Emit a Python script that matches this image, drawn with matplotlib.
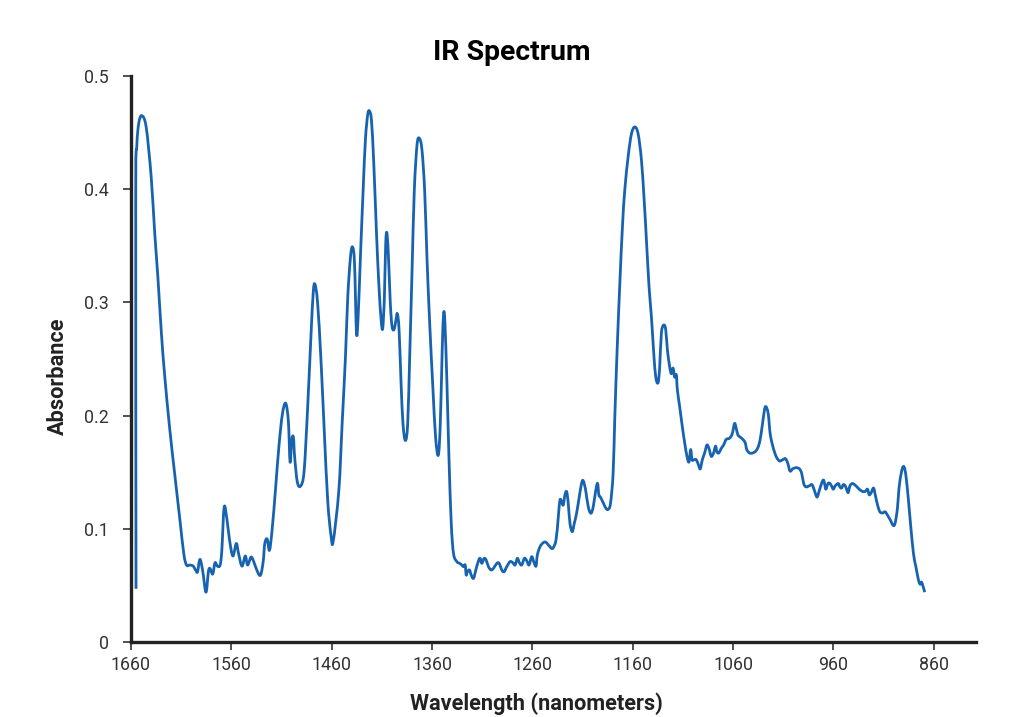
import matplotlib
matplotlib.use("Agg")
import matplotlib.pyplot as plt
from matplotlib.path import Path
from matplotlib.patches import PathPatch

plt.rcParams['font.family'] = ['Roboto', 'DejaVu Sans']

title = "IR Spectrum"
x_label = "Wavelength (nanometers)"
y_label = "Absorbance"
x_ticks = [1660, 1560, 1460, 1360, 1260, 1160, 1060, 960, 860]
y_ticks = [0, 0.1, 0.2, 0.3, 0.4, 0.5]
y_tick_labels = ["0", "0.1", "0.2", "0.3", "0.4", "0.5"]

wavelength = [
    1655.0, 1655.3, 1654.2, 1652.3, 1649.3, 1644.9, 1639.9, 1636.5, 1633.2, 1629.8,
    1626.5, 1621.5, 1616.4, 1611.4, 1607.4, 1604.7, 1601.4, 1598.0, 1595.3, 1593.7,
    1591.3, 1588.6, 1585.3, 1582.9, 1581.3, 1578.6, 1576.3, 1573.9, 1571.2, 1569.5,
    1567.2, 1564.5, 1561.8, 1558.5, 1555.1, 1552.8, 1549.4, 1546.1, 1543.8, 1540.4,
    1537.7, 1534.4, 1531.0, 1528.3, 1526.7, 1524.3, 1522.0, 1519.3, 1516.0, 1512.6,
    1509.2, 1505.9, 1503.2, 1501.5, 1499.9, 1498.2, 1496.9, 1494.2, 1490.8, 1487.5,
    1484.1, 1480.8, 1478.4, 1476.7, 1474.1, 1470.7, 1467.4, 1464.0, 1460.7,
    1458.5, 1452.9, 1449.6, 1446.3, 1444.0, 1441.3, 1439.3, 1437.3, 1435.3, 1433.7,
    1431.4, 1428.7, 1426.4, 1424.1, 1422.4, 1420.4, 1418.1, 1415.5, 1413.1, 1410.8,
    1409.2, 1407.5, 1406.2, 1404.9, 1403.2, 1401.6, 1399.9, 1397.9, 1395.9, 1394.6,
    1392.9, 1390.9, 1389.0, 1386.6, 1384.3, 1382.3, 1380.0, 1377.7, 1375.0, 1372.7,
    1370.1, 1367.4, 1365.1, 1362.4, 1359.1, 1356.5, 1353.8, 1351.8, 1349.9, 1348.5,
    1347.2, 1345.2, 1343.2, 1340.9, 1338.6, 1335.3,
    1332.6, 1330.3, 1328.7, 1327.0, 1326.0, 1324.7, 1322.7, 1321.0, 1318.7, 1316.4,
    1313.7, 1312.1, 1310.4, 1308.1, 1306.1, 1303.8, 1301.2, 1298.8, 1295.5, 1293.2,
    1290.5, 1288.2, 1285.6, 1282.3, 1279.6, 1277.3, 1275.0, 1273.0, 1270.7, 1268.0,
    1265.7, 1263.4, 1260.7, 1258.4, 1256.4, 1255.1, 1252.4, 1249.1, 1246.5, 1243.2,
    1239.9, 1236.5, 1234.2, 1232.6, 1230.9, 1229.3, 1227.6, 1225.9, 1224.3, 1222.6,
    1220.3, 1218.3, 1216.0, 1213.3, 1211.0, 1209.4, 1207.0, 1204.4, 1201.7, 1199.4,
    1197.1, 1195.1, 1193.8, 1192.1, 1189.5, 1186.8, 1184.5, 1182.2, 1179.6,
    1177.9, 1175.6, 1172.9, 1170.3, 1168.0, 1164.6, 1161.3, 1158.0, 1154.7, 1151.4,
    1148.7, 1146.4, 1143.8, 1141.4, 1139.1, 1137.1, 1134.8, 1133.2, 1131.5, 1129.2,
    1127.2, 1125.5, 1123.2, 1121.6, 1119.9, 1118.3, 1116.6, 1115.6, 1113.3, 1110.6,
    1108.3, 1106.0, 1104.0, 1102.3, 1101.0, 1099.0, 1096.7, 1094.4, 1092.7, 1090.7,
    1088.4, 1086.1, 1084.1, 1081.8, 1079.5, 1077.5, 1076.2, 1074.2, 1071.9, 1069.5,
    1066.9, 1063.6, 1060.9, 1058.6, 1057.0, 1055.3, 1053.0, 1050.3, 1048.0, 1046.4,
    1043.7, 1040.4, 1037.1, 1034.4, 1032.1, 1029.8, 1027.8,
    1025.1, 1023.1, 1020.5, 1017.2, 1013.9, 1010.6, 1007.9, 1005.6, 1003.3, 1000.6,
    997.3, 994.0, 991.7, 989.7, 987.4, 984.1, 981.4, 979.1, 976.4, 974.1,
    971.5, 969.8, 968.5, 967.5, 965.5, 963.5, 961.5, 960.2, 958.2, 955.2,
    953.6, 951.9, 950.3, 948.3, 946.6, 945.3, 943.6, 941.0, 937.7, 934.4,
    931.0, 928.4, 926.1, 924.4, 922.4, 920.1, 918.4, 916.1, 913.8, 911.2,
    908.5, 906.2, 903.5, 900.6, 898.6, 896.3, 894.6, 892.3, 890.6, 889.0,
    887.3, 885.3, 883.0, 880.3, 878.0, 875.4, 873.7, 872.4, 870.7, 869.1,
]

absorbance = [
    0.047, 0.390, 0.438, 0.458, 0.465, 0.455, 0.411, 0.363, 0.322, 0.274,
    0.236, 0.189, 0.148, 0.109, 0.078, 0.068, 0.068, 0.067, 0.063, 0.062,
    0.073, 0.063, 0.044, 0.062, 0.065, 0.060, 0.070, 0.067, 0.068, 0.081,
    0.119, 0.109, 0.090, 0.076, 0.087, 0.078, 0.067, 0.076, 0.068, 0.075,
    0.071, 0.063, 0.059, 0.071, 0.087, 0.091, 0.081, 0.100, 0.135, 0.173,
    0.201, 0.211, 0.195, 0.159, 0.178, 0.181, 0.163, 0.141, 0.138, 0.151,
    0.205, 0.268, 0.309, 0.316, 0.300, 0.249, 0.186, 0.125, 0.094,
    0.089, 0.134, 0.193, 0.252, 0.305, 0.340, 0.349, 0.335, 0.273, 0.287,
    0.340, 0.399, 0.444, 0.466, 0.469, 0.461, 0.423, 0.364, 0.317, 0.285,
    0.277, 0.305, 0.352, 0.361, 0.335, 0.299, 0.279, 0.276, 0.285, 0.290,
    0.276, 0.229, 0.193, 0.178, 0.193, 0.252, 0.326, 0.399, 0.439, 0.445,
    0.435, 0.399, 0.340, 0.282, 0.223, 0.181, 0.165, 0.193, 0.258, 0.290,
    0.282, 0.229, 0.164, 0.105, 0.078, 0.071,
    0.0695, 0.068, 0.0665, 0.068, 0.0592, 0.0621, 0.0636, 0.0592, 0.0562, 0.0636,
    0.0719, 0.0739, 0.0695, 0.0739, 0.0724, 0.0665, 0.0636, 0.0651, 0.0695, 0.0695,
    0.0636, 0.0621, 0.0665, 0.0710, 0.0701, 0.068, 0.0739, 0.0701, 0.068, 0.0739,
    0.0719, 0.068, 0.0754, 0.0701, 0.0671, 0.0769, 0.0842, 0.0878, 0.0881, 0.0848,
    0.0827, 0.0901, 0.1107, 0.1254, 0.1240, 0.1210, 0.1299, 0.1328, 0.1225, 0.1048,
    0.0975, 0.1048, 0.1137, 0.1284, 0.1402, 0.1425, 0.1343, 0.1195, 0.1137, 0.1195,
    0.1328, 0.1402, 0.1299, 0.1278, 0.1231, 0.1181, 0.1172, 0.1225, 0.149,
    0.199, 0.258, 0.317, 0.367, 0.399, 0.429, 0.449, 0.455, 0.449, 0.426,
    0.391, 0.355, 0.314, 0.287, 0.255, 0.234, 0.229, 0.243, 0.273, 0.280,
    0.276, 0.258, 0.243, 0.237, 0.242, 0.234, 0.236, 0.223, 0.208, 0.190,
    0.176, 0.164, 0.159, 0.170, 0.161, 0.161, 0.161, 0.156, 0.153, 0.161,
    0.167, 0.174, 0.171, 0.164, 0.167, 0.173, 0.168, 0.167, 0.171, 0.174,
    0.179, 0.180, 0.184, 0.193, 0.189, 0.183, 0.181, 0.179, 0.176, 0.170,
    0.167, 0.167, 0.169, 0.174, 0.184, 0.199, 0.208,
    0.202, 0.184, 0.173, 0.164, 0.160, 0.161, 0.162, 0.158, 0.151, 0.153,
    0.154, 0.153, 0.149, 0.140, 0.137, 0.138, 0.139, 0.134, 0.128, 0.134,
    0.141, 0.143, 0.138, 0.135, 0.140, 0.140, 0.137, 0.135, 0.138, 0.140,
    0.137, 0.136, 0.139, 0.138, 0.134, 0.132, 0.138, 0.140, 0.138, 0.135,
    0.133, 0.133, 0.135, 0.130, 0.132, 0.136, 0.130, 0.121, 0.115, 0.114,
    0.115, 0.112, 0.108, 0.103, 0.105, 0.118, 0.137, 0.150, 0.155, 0.153,
    0.143, 0.125, 0.102, 0.078, 0.067, 0.055, 0.051, 0.053, 0.049, 0.044,
]

W, H = 1024, 717
fig = plt.figure(figsize=(W / 100, H / 100), dpi=100)
ax = fig.add_axes([131 / W, 1 - 642 / H, (976 - 131) / W, (642 - 76) / H])

# Smooth curve through the measured points (Catmull-Rom drawn as cubic Beziers)
pts = list(zip(wavelength, absorbance))
n = len(pts)
verts = [pts[0]]
codes = [Path.MOVETO]
for i in range(n - 1):
    p0 = pts[i - 1] if i > 0 else pts[i]
    p1 = pts[i]
    p2 = pts[i + 1]
    p3 = pts[i + 2] if i + 2 < n else pts[i + 1]
    c1 = (p1[0] + (p2[0] - p0[0]) / 6.0, p1[1] + (p2[1] - p0[1]) / 6.0)
    c2 = (p2[0] - (p3[0] - p1[0]) / 6.0, p2[1] - (p3[1] - p1[1]) / 6.0)
    verts += [c1, c2, p2]
    codes += [Path.CURVE4, Path.CURVE4, Path.CURVE4]
curve = PathPatch(Path(verts, codes), facecolor="none", edgecolor="#1763b0",
                  linewidth=2.0, joinstyle="round", capstyle="butt")
ax.add_patch(curve)

ax.set_xlim(1660, 818)
ax.set_ylim(0, 0.5)
ax.set_xticks(x_ticks)
ax.set_xticklabels([str(t) for t in x_ticks])
ax.set_yticks(y_ticks)
ax.set_yticklabels(y_tick_labels)

for s in ("top", "right"):
    ax.spines[s].set_visible(False)
for s in ("left", "bottom"):
    ax.spines[s].set_linewidth(2.4)
    ax.spines[s].set_color("#222222")
    ax.spines[s].set_capstyle("projecting")

ax.tick_params(axis="both", direction="out", length=6, width=1.2,
               color="#333333", labelcolor="#333333", labelsize=12.8)
ax.tick_params(axis="x", pad=4)
ax.tick_params(axis="y", pad=10)

fig.text(512 / W, 1 - 52 / H, title, ha="center", va="center",
         fontsize=20.4, fontweight="bold", color="#000000")
fig.text(536 / W, 1 - 704 / H, x_label, ha="center", va="center",
         fontsize=15.7, fontweight="bold", color="#222222")
fig.text(58 / W, 1 - 376 / H, y_label, ha="center", va="center",
         rotation=90, fontsize=15.7, fontweight="bold", color="#222222")

fig.savefig("out.png", dpi=100, facecolor="white")
